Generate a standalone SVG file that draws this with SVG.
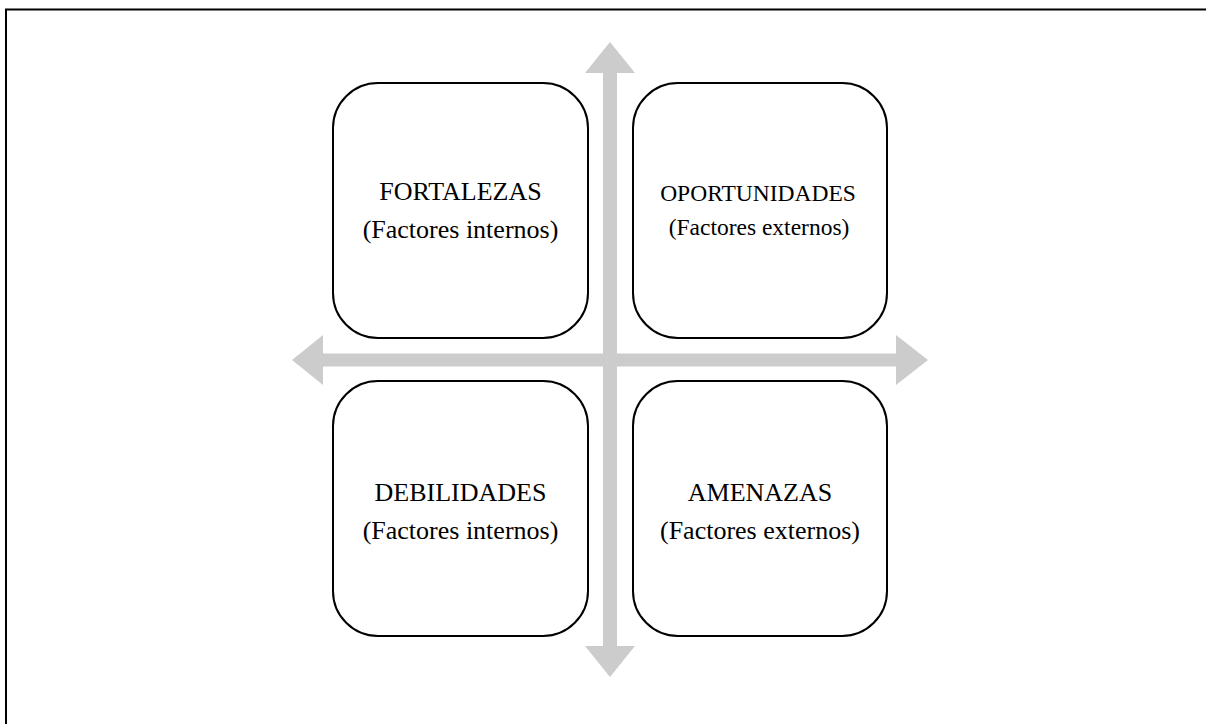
<svg xmlns="http://www.w3.org/2000/svg" width="1206" height="724" viewBox="0 0 1206 724">
  <style>
    .box { fill: #ffffff; stroke: #000000; stroke-width: 2; }
    .axis { fill: #cccccc; stroke: none; }
    .lbl { font-family: "Liberation Serif", "Times New Roman", serif; font-size: 26px; fill: #000000; text-anchor: middle; }
    .lbl-sm { font-size: 23.5px; }
  </style>
  <rect x="0" y="0" width="1206" height="724" fill="#ffffff"/>
  <!-- page frame, open at right and bottom -->
  <rect x="6" y="9.5" width="1220" height="730" fill="none" stroke="#000000" stroke-width="2"/>

  <g id="connectors">
    <!-- vertical axis with arrowheads at both ends -->
    <polygon class="axis" points="610,42 635,73 617,73 617,646 635,646 610,677 585,646 603,646 603,73 585,73"/>
    <!-- horizontal axis with arrowheads at both ends -->
    <polygon class="axis" points="292,360 323,335 323,353.5 896,353.5 896,335 928,360 896,385 896,366.5 323,366.5 323,385"/>
  </g>

  <g id="fortalezas">
    <rect class="box" x="333" y="83" width="255" height="255" rx="45" ry="45"/>
    <text class="lbl" x="460.5" y="200">FORTALEZAS</text>
    <text class="lbl" x="460.5" y="238">(Factores internos)</text>
  </g>

  <g id="oportunidades">
    <rect class="box" x="633" y="83" width="254" height="255" rx="45" ry="45"/>
    <text class="lbl lbl-sm" x="758" y="201">OPORTUNIDADES</text>
    <text class="lbl lbl-sm" x="759" y="235">(Factores externos)</text>
  </g>

  <g id="debilidades">
    <rect class="box" x="333" y="381" width="255" height="255" rx="45" ry="45"/>
    <text class="lbl" x="460.5" y="501">DEBILIDADES</text>
    <text class="lbl" x="460.5" y="539">(Factores internos)</text>
  </g>

  <g id="amenazas">
    <rect class="box" x="633" y="381" width="254" height="255" rx="45" ry="45"/>
    <text class="lbl" x="760" y="501">AMENAZAS</text>
    <text class="lbl" x="760" y="539">(Factores externos)</text>
  </g>
</svg>
